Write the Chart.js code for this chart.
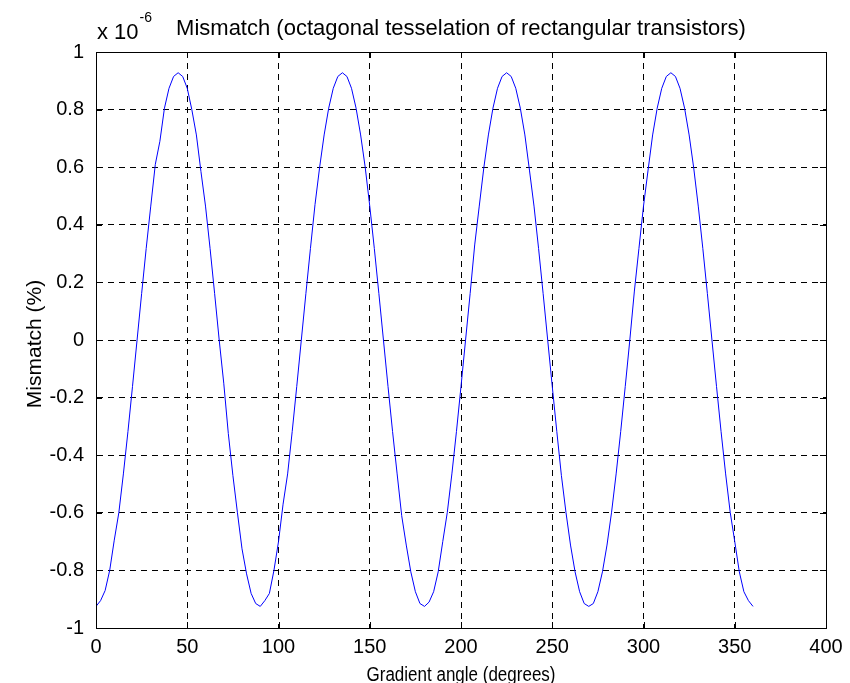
<!DOCTYPE html>
<html><head><meta charset="utf-8">
<script src="https://cdn.jsdelivr.net/npm/chart.js@4/dist/chart.umd.min.js"></script>
<style>html,body{margin:0;padding:0;background:#fff}</style>
</head><body>
<canvas id="c" width="850" height="683"></canvas>
<script>
const angles = [
  0,2.5,5,7.5,10,12.5,15,17.5,20,22.5,25,27.5,30,32.5,35,37.5,40,42.5,45,47.5,50,52.5,55,57.5,60,62.5,65,67.5,70,72.5,75,77.5,80,82.5,85,87.5,
  90,92.5,95,97.5,100,102.5,105,107.5,110,112.5,115,117.5,120,122.5,125,127.5,130,132.5,135,137.5,140,142.5,145,147.5,150,152.5,155,157.5,160,162.5,165,167.5,170,172.5,175,177.5,
  180,182.5,185,187.5,190,192.5,195,197.5,200,202.5,205,207.5,210,212.5,215,217.5,220,222.5,225,227.5,230,232.5,235,237.5,240,242.5,245,247.5,250,252.5,255,257.5,260,262.5,265,267.5,
  270,272.5,275,277.5,280,282.5,285,287.5,290,292.5,295,297.5,300,302.5,305,307.5,310,312.5,315,317.5,320,322.5,325,327.5,330,332.5,335,337.5,340,342.5,345,347.5,350,352.5,355,357.5,360
];
const mismatch = [
  -0.925,-0.905,-0.870,-0.800,-0.695,-0.600,-0.465,-0.318,-0.161,0.000,0.161,0.318,0.465,0.610,0.690,0.805,0.874,0.915,0.928,0.915,0.874,0.800,0.712,0.585,0.465,0.318,0.161,0.000,-0.150,-0.325,-0.470,-0.600,-0.725,-0.812,-0.880,-0.915,
  -0.925,-0.905,-0.880,-0.800,-0.700,-0.570,-0.465,-0.318,-0.161,0.000,0.161,0.318,0.470,0.598,0.712,0.805,0.874,0.915,0.928,0.915,0.874,0.805,0.712,0.600,0.465,0.318,0.161,0.000,-0.161,-0.318,-0.465,-0.610,-0.712,-0.805,-0.874,-0.915,
  -0.925,-0.910,-0.874,-0.805,-0.700,-0.598,-0.465,-0.318,-0.161,0.000,0.161,0.330,0.465,0.598,0.712,0.805,0.874,0.915,0.928,0.915,0.874,0.805,0.712,0.590,0.465,0.318,0.161,0.000,-0.161,-0.318,-0.470,-0.598,-0.712,-0.805,-0.874,-0.915,
  -0.925,-0.915,-0.874,-0.805,-0.712,-0.598,-0.465,-0.318,-0.161,0.000,0.170,0.318,0.465,0.590,0.712,0.805,0.874,0.915,0.928,0.915,0.874,0.805,0.712,0.598,0.465,0.318,0.161,0.000,-0.161,-0.318,-0.465,-0.598,-0.700,-0.805,-0.874,-0.905,-0.925
];
const xTickValues = [0,50,100,150,200,250,300,350,400];
const xTickLabels = ['0','50','100','150','200','250','300','350','400'];
const yTickValues = [-1,-0.8,-0.6,-0.4,-0.2,0,0.2,0.4,0.6,0.8,1];
const yTickLabels = ['-1','-0.8','-0.6','-0.4','-0.2','0','0.2','0.4','0.6','0.8','1'];
const titleText = 'Mismatch (octagonal tesselation of rectangular transistors)';
const exponentBase = 'x 10';
const exponentPower = '-6';
const xTitle = 'Gradient angle (degrees)';
const yTitle = 'Mismatch (%)';

const FONT = '"Liberation Sans", Arial, sans-serif';
const points = angles.map((a, i) => ({x: a, y: mismatch[i]}));

const decor = {
  id: 'decor',
  afterDraw(chart) {
    const ctx = chart.ctx, ca = chart.chartArea;
    const xs = chart.scales.x, ys = chart.scales.y;
    ctx.save();
    ctx.strokeStyle = '#000';
    ctx.lineWidth = 1;
    ctx.setLineDash([]);
    ctx.beginPath();
    const tl = 6;
    xTickValues.forEach(v => {
      const px = Math.round(xs.getPixelForValue(v)) + 0.5;
      ctx.moveTo(px, ca.bottom); ctx.lineTo(px, ca.bottom - tl);
      ctx.moveTo(px, ca.top); ctx.lineTo(px, ca.top + tl);
    });
    yTickValues.forEach(v => {
      const py = Math.round(ys.getPixelForValue(v)) + 0.5;
      ctx.moveTo(ca.left, py); ctx.lineTo(ca.left + tl, py);
      ctx.moveTo(ca.right, py); ctx.lineTo(ca.right - tl, py);
    });
    ctx.stroke();
    ctx.strokeRect(Math.round(ca.left) + 0.5, Math.round(ca.top) + 0.5,
                   Math.round(ca.right - ca.left), Math.round(ca.bottom - ca.top));
    ctx.fillStyle = '#000';
    ctx.textBaseline = 'alphabetic';
    ctx.font = '22px ' + FONT;
    ctx.textAlign = 'center';
    ctx.fillText(titleText, (ca.left + ca.right) / 2, 35);
    ctx.textAlign = 'left';
    ctx.fillText(exponentBase, 97, 39);
    const w = ctx.measureText(exponentBase).width;
    ctx.font = '14px ' + FONT;
    ctx.fillText(exponentPower, 97 + w + 1, 22);
    // x-axis title: slightly condensed
    ctx.save();
    ctx.font = '20px ' + FONT;
    ctx.textAlign = 'center';
    ctx.translate((ca.left + ca.right) / 2, 681);
    ctx.scale(0.85, 1);
    ctx.fillText(xTitle, 0, 0);
    ctx.restore();
    ctx.font = '21px ' + FONT;
    ctx.textAlign = 'center';
    ctx.translate(41, (ca.top + ca.bottom) / 2 + 4);
    ctx.rotate(-Math.PI / 2);
    ctx.fillText(yTitle, 0, 0);
    ctx.restore();
  }
};

new Chart(document.getElementById('c'), {
  type: 'line',
  data: {
    datasets: [{
      data: points,
      borderColor: '#0000ff',
      borderWidth: 1,
      pointRadius: 0,
      tension: 0,
      fill: false
    }]
  },
  options: {
    responsive: false,
    animation: false,
    devicePixelRatio: 1,
    layout: {padding: {left: 0, right: 24, top: 52, bottom: 0}},
    plugins: {legend: {display: false}, tooltip: {enabled: false}, title: {display: false}},
    scales: {
      x: {
        type: 'linear', min: 0, max: 400,
        afterFit(s) { s.height = 55; },
        afterBuildTicks(s) { s.ticks = xTickValues.map(v => ({value: v})); },
        ticks: {
          callback: (v) => xTickLabels[xTickValues.indexOf(v)],
          font: {family: FONT, size: 20}, color: '#000', padding: 7, maxRotation: 0, autoSkip: false
        },
        grid: {
          drawTicks: false,
          color: (c) => (c.tick && (c.tick.value === 0 || c.tick.value === 400)) ? 'rgba(0,0,0,0)' : '#000',
          lineWidth: 1
        },
        border: {display: true, color: '#000', dash: [6, 5]}
      },
      y: {
        type: 'linear', min: -1, max: 1,
        afterFit(s) { s.width = 96; },
        afterBuildTicks(s) { s.ticks = yTickValues.map(v => ({value: v})); },
        ticks: {
          callback: (v) => yTickLabels[yTickValues.indexOf(v)],
          font: {family: FONT, size: 20}, color: '#000', padding: 12, autoSkip: false
        },
        grid: {
          drawTicks: false,
          color: (c) => (c.tick && (c.tick.value === -1 || c.tick.value === 1)) ? 'rgba(0,0,0,0)' : '#000',
          lineWidth: 1
        },
        border: {display: true, color: '#000', dash: [6, 5]}
      }
    }
  },
  plugins: [decor]
});
</script>
</body></html>
